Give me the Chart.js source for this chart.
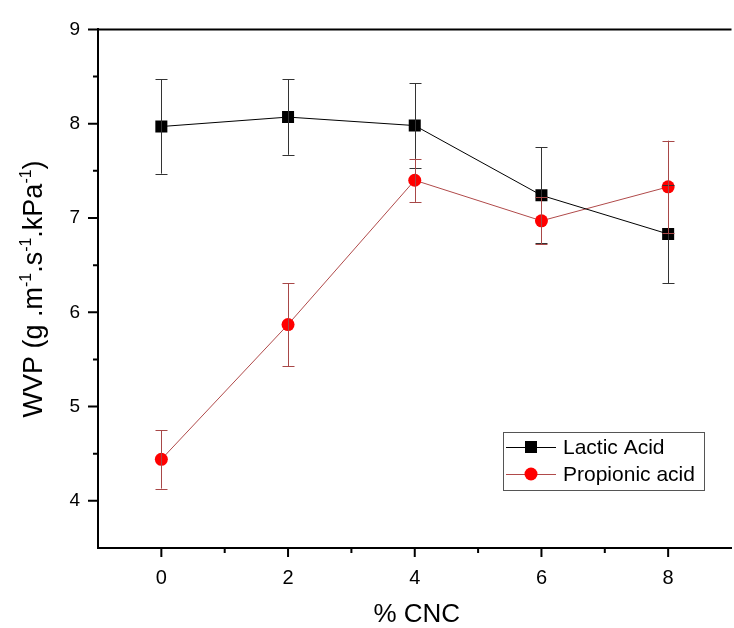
<!DOCTYPE html>
<html>
<head>
<meta charset="utf-8">
<script src="https://cdn.jsdelivr.net/npm/chart.js@4.4.1/dist/chart.umd.min.js"></script>
<style>
  html, body { margin: 0; padding: 0; background: #fff; overflow: hidden; }
  #wrap { width: 734px; height: 628px; overflow: hidden; }
</style>
</head>
<body>
<div id="wrap"><canvas id="wvpChart" width="740" height="628"></canvas></div>
<script>
// data
var cnc = [0, 2, 4, 6, 8];
var lactic = [7.97, 8.07, 7.98, 7.24, 6.83];
var lacticErr = [0.50, 0.40, 0.45, 0.51, 0.52];
var propionic = [4.44, 5.87, 7.40, 6.97, 7.33];
var propionicErr = [0.31, 0.44, 0.23, 0.25, 0.49];

var xTicks = [0, 2, 4, 6, 8];
var xMinor = [1, 3, 5, 7];
var yTicks = [4, 5, 6, 7, 8, 9];
var yMinor = [4.5, 5.5, 6.5, 7.5, 8.5];

var FONT = "'Liberation Sans', Arial, sans-serif";

function points(ys) {
    return cnc.map(function (x, i) { return { x: x, y: ys[i] }; });
}

var deco = {
    id: 'deco',
    afterDatasetsDraw: function (chart) {
        var ctx = chart.ctx, xs = chart.scales.x, ys = chart.scales.y;
        chart.data.datasets.forEach(function (ds) {
            ctx.save();
            ctx.strokeStyle = ds.errColor;
            ctx.lineWidth = 1;
            ds.data.forEach(function (p, i) {
                var px = Math.round(xs.getPixelForValue(p.x)) + 0.5;
                var top = ys.getPixelForValue(p.y + ds.err[i]);
                var bot = ys.getPixelForValue(p.y - ds.err[i]);
                ctx.beginPath();
                ctx.moveTo(px, top); ctx.lineTo(px, bot);
                ctx.moveTo(px - 6, Math.round(top) + 0.5); ctx.lineTo(px + 6, Math.round(top) + 0.5);
                ctx.moveTo(px - 6, Math.round(bot) + 0.5); ctx.lineTo(px + 6, Math.round(bot) + 0.5);
                ctx.stroke();
            });
            ctx.restore();
        });
    },
    afterDraw: function (chart) {
        var ctx = chart.ctx, xs = chart.scales.x, ys = chart.scales.y;
        var area = chart.chartArea;
        ctx.save();
        ctx.strokeStyle = '#000';

        // top frame line
        ctx.lineWidth = 2;
        ctx.beginPath();
        ctx.moveTo(area.left - 1, area.top);
        ctx.lineTo(area.right, area.top);
        ctx.stroke();

        // ticks, drawn outward
        ctx.lineWidth = 2;
        ctx.beginPath();
        xTicks.forEach(function (v) {
            var px = xs.getPixelForValue(v);
            ctx.moveTo(px, area.bottom); ctx.lineTo(px, area.bottom + 9);
        });
        xMinor.forEach(function (v) {
            var px = xs.getPixelForValue(v);
            ctx.moveTo(px, area.bottom); ctx.lineTo(px, area.bottom + 5);
        });
        yTicks.forEach(function (v) {
            var py = ys.getPixelForValue(v);
            ctx.moveTo(area.left, py); ctx.lineTo(area.left - 10, py);
        });
        yMinor.forEach(function (v) {
            var py = ys.getPixelForValue(v);
            ctx.moveTo(area.left, py); ctx.lineTo(area.left - 5, py);
        });
        ctx.stroke();

        // x title
        ctx.fillStyle = '#000';
        ctx.font = '26px ' + FONT;
        ctx.textAlign = 'center';
        ctx.textBaseline = 'middle';
        ctx.fillText('% CNC', xs.getPixelForValue(4) + 2, 615);

        // y title with superscripts
        var parts = [['WVP (g .m', 0], ['-1', 1], ['.s', 0], ['-1', 1], ['.kPa', 0], ['-1', 1], [')', 0]];
        var big = '27px ' + FONT, small = '16px ' + FONT;
        var total = 0;
        parts.forEach(function (p) { ctx.font = p[1] ? small : big; total += ctx.measureText(p[0]).width; });
        ctx.translate(42, 289);
        ctx.rotate(-Math.PI / 2);
        ctx.textAlign = 'left';
        ctx.textBaseline = 'alphabetic';
        var cx = -total / 2;
        parts.forEach(function (p) {
            ctx.font = p[1] ? small : big;
            ctx.fillText(p[0], cx, p[1] ? -11 : 0);
            cx += ctx.measureText(p[0]).width;
        });
        ctx.setTransform(1, 0, 0, 1, 0, 0);

        // legend box
        var lx = 503, ly = 432, lw = 201, lh = 58;
        ctx.fillStyle = '#fff';
        ctx.fillRect(lx, ly, lw, lh);
        ctx.strokeStyle = '#555';
        ctx.lineWidth = 1;
        ctx.strokeRect(lx + 0.5, ly + 0.5, lw, lh);
        chart.data.datasets.forEach(function (ds, i) {
            var y = 447 + i * 27;
            ctx.strokeStyle = ds.borderColor;
            ctx.lineWidth = 1;
            ctx.beginPath();
            ctx.moveTo(506, y + 0.5); ctx.lineTo(556, y + 0.5);
            ctx.stroke();
            ctx.fillStyle = ds.pointBackgroundColor;
            ctx.beginPath();
            if (ds.pointStyle === 'rect') {
                ctx.rect(525, y - 6, 12, 12);
            } else {
                ctx.arc(531, y, 6.5, 0, Math.PI * 2);
            }
            ctx.fill();
            ctx.fillStyle = '#000';
            ctx.font = '21px ' + FONT;
            ctx.textAlign = 'left';
            ctx.textBaseline = 'middle';
            ctx.fillText(ds.label, 563, y + 1);
        });
        ctx.restore();
    }
};

var ctx = document.getElementById('wvpChart').getContext('2d');
var wvpChart = new Chart(ctx, {
    type: 'scatter',
    data: {
        datasets: [{
            label: 'Lactic Acid',
            data: points(lactic),
            err: lacticErr,
            errColor: '#333333',
            showLine: true,
            borderColor: '#000000',
            borderWidth: 1,
            pointStyle: 'rect',
            pointRadius: 8.5,
            pointBackgroundColor: '#000000',
            pointBorderWidth: 0
        }, {
            label: 'Propionic acid',
            data: points(propionic),
            err: propionicErr,
            errColor: '#a84848',
            showLine: true,
            borderColor: '#b04a4a',
            borderWidth: 1,
            pointStyle: 'circle',
            pointRadius: 6.5,
            pointBackgroundColor: '#ff0000',
            pointBorderWidth: 0
        }]
    },
    plugins: [deco],
    options: {
        responsive: false,
        animation: false,
        devicePixelRatio: 1,
        layout: { padding: { top: 24, right: 2, left: 0, bottom: 0 } },
        plugins: {
            legend: { display: false },
            tooltip: { enabled: false }
        },
        scales: {
            x: {
                type: 'linear',
                min: -1,
                max: 9,
                afterFit: function (scale) { scale.height = 80; },
                afterBuildTicks: function (scale) {
                    scale.ticks = xTicks.map(function (v) { return { value: v }; });
                },
                grid: { display: true, drawOnChartArea: false, drawTicks: false },
                border: { color: '#000', width: 2 },
                ticks: {
                    padding: 18,
                    color: '#000',
                    font: { family: FONT, size: 20 }
                }
            },
            y: {
                type: 'linear',
                min: 3.5,
                max: 9,
                afterFit: function (scale) { scale.width = 98; },
                afterBuildTicks: function (scale) {
                    scale.ticks = yTicks.map(function (v) { return { value: v }; });
                },
                grid: { display: true, drawOnChartArea: false, drawTicks: false },
                border: { color: '#000', width: 2 },
                ticks: {
                    padding: 18,
                    color: '#000',
                    font: { family: FONT, size: 19 }
                }
            }
        }
    }
});
</script>
</body>
</html>
